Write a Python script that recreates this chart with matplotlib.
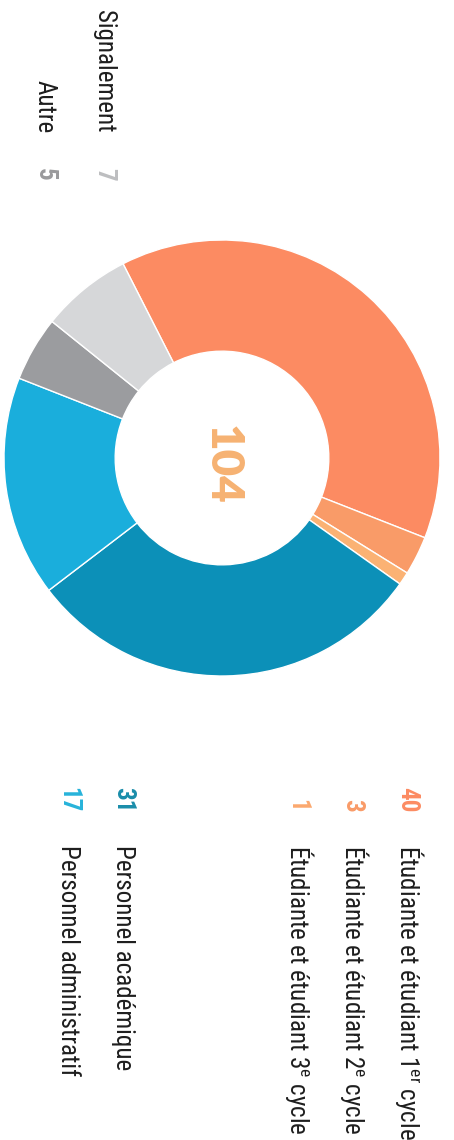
import matplotlib.pyplot as plt
from matplotlib import font_manager

# categories, counts and colours of the ring (clockwise order)
categories = [
    r"Étudiante et étudiant 1$^{\mathrm{er}}$ cycle",
    r"Étudiante et étudiant 2$^{\mathrm{e}}$ cycle",
    r"Étudiante et étudiant 3$^{\mathrm{e}}$ cycle",
    "Personnel académique",
    "Personnel administratif",
    "Autre",
    "Signalement",
]
counts = [40, 3, 1, 31, 17, 5, 7]
wedge_colors = ["#FC8B62", "#F99B68", "#FBB274", "#0C90B8", "#1AAEDC", "#9B9C9F", "#D6D7D9"]
number_colors = ["#FC8B62", "#F99B68", "#FBA86E", "#1A8DAA", "#27B3DA", "#9A9A9C", "#BDBEC0"]

installed = {f.name for f in font_manager.fontManager.ttflist}
narrow = next(n for n in ["Roboto Condensed", "Archivo Narrow", "Barlow Semi Condensed",
                          "Asap Condensed", "Roboto"] if n in installed)

plt.rcParams["mathtext.fontset"] = "custom"
plt.rcParams["mathtext.rm"] = narrow

W, H = 454, 1140
fig = plt.figure(figsize=(W / 100, H / 100), dpi=100)
fig.patch.set_facecolor("white")

# donut, centre (222, 458) px, outer radius 218 px
cx, cy, r = 222, 458, 218
ax = fig.add_axes([(cx - r) / W, (H - cy - r) / H, 2 * r / W, 2 * r / H])
ax.pie(counts, colors=wedge_colors, startangle=117, counterclock=False,
       wedgeprops=dict(width=0.51, edgecolor="white", linewidth=1.0))
ax.set_xlim(-1, 1)
ax.set_ylim(-1, 1)
ax.set_aspect("equal")
ax.axis("off")

total = sum(counts)
ax.text(0.0, -0.03, str(total), rotation=270, ha="center", va="center",
        fontsize=33, fontweight="heavy", family="Lato", color="#F6B272")


def px(x, y):
    return x / W, 1 - y / H


label_size = 18
text_color = "#1E1E1E"
# right block: number ends at y=812, label starts at y=845
right_rows = [(0, 400), (1, 345), (2, 290), (3, 116), (4, 61)]
for i, xb in right_rows:
    fig.text(*px(xb, 812), str(counts[i]), rotation=270, rotation_mode="anchor",
             ha="right", va="baseline", fontsize=label_size, fontweight="bold",
             family=narrow, color=number_colors[i])
    fig.text(*px(xb, 845), categories[i], rotation=270, rotation_mode="anchor",
             ha="left", va="baseline", fontsize=label_size,
             family=narrow, color=text_color)

# left block: label ends at y=133, number starts at y=168
left_rows = [(6, 97), (5, 38)]
for i, xb in left_rows:
    fig.text(*px(xb, 133), categories[i], rotation=270, rotation_mode="anchor",
             ha="right", va="baseline", fontsize=label_size,
             family=narrow, color=text_color)
    fig.text(*px(xb, 168), str(counts[i]), rotation=270, rotation_mode="anchor",
             ha="left", va="baseline", fontsize=label_size, fontweight="bold",
             family=narrow, color=number_colors[i])

fig.savefig("out.png", dpi=100, facecolor="white")
